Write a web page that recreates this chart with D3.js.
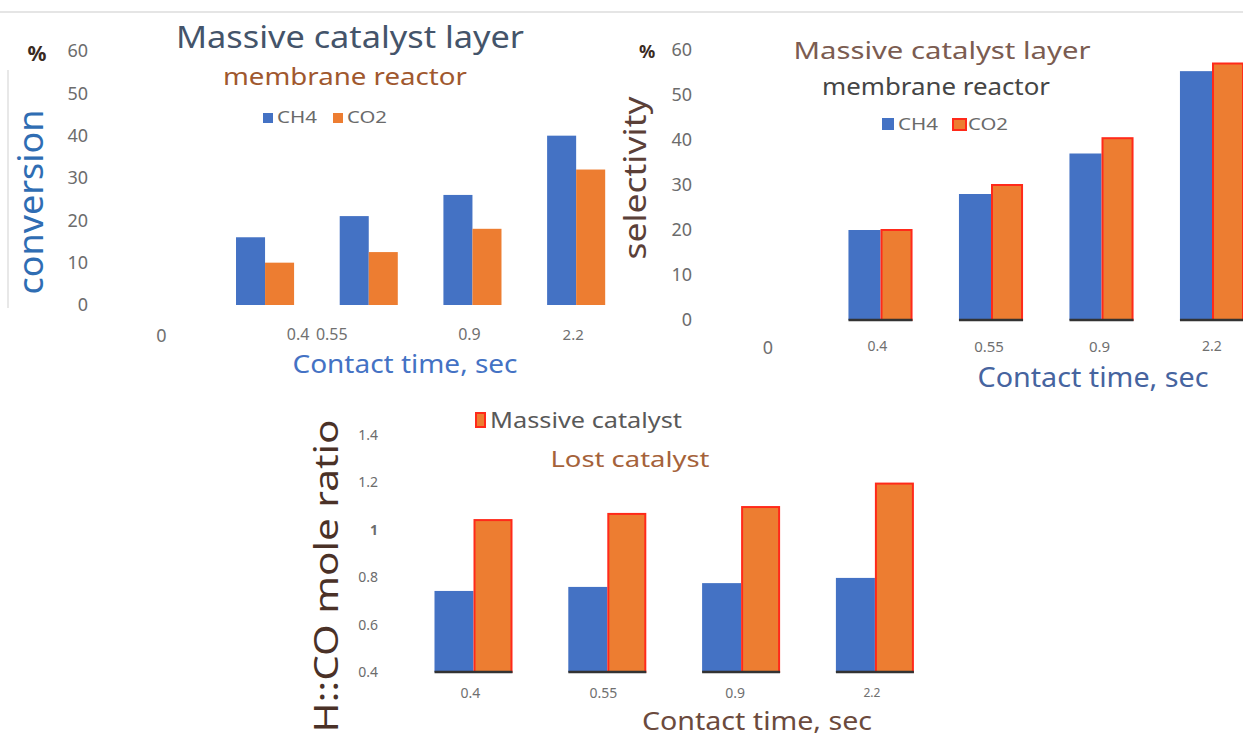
<!DOCTYPE html>
<html><head><meta charset="utf-8">
<script src="https://cdn.jsdelivr.net/npm/d3@7"></script>
<style>
html,body{margin:0;padding:0;background:#fff;}
svg{display:block;}
text{font-family:"Noto Sans","Open Sans",sans-serif;}
</style></head>
<body>
<svg id="c" width="1243" height="740"></svg>
<script>
// ---------- data ----------
const contactTimes = ["0", "0.4", "0.55", "0.9", "2.2"];
const seriesNames = ["CH4", "CO2"];
const conversionCH4 = [null, 16, 21, 26, 40];
const conversionCO2 = [null, 10, 12.5, 18, 32];
const selectivityCH4 = [null, 20, 28, 37, 55.3];
const selectivityCO2 = [null, 20, 30, 40.4, 57];
const percentTicks = [0, 10, 20, 30, 40, 50, 60];

const ratioTimes = ["0.4", "0.55", "0.9", "2.2"];
const ratioSeries = ["Lost catalyst", "Massive catalyst"];
const ratioLost = [0.742, 0.759, 0.775, 0.797];
const ratioMassive = [1.041, 1.067, 1.096, 1.195];
const ratioTicks = [0.4, 0.6, 0.8, 1, 1.2, 1.4];

// ---------- drawing ----------
const BLUE = "#4472c4", ORANGE = "#ed7d31", RED = "#ff2a1a";
const svg = d3.select("#c");

svg.append("line").attr("x1",0).attr("x2",1243).attr("y1",12).attr("y2",12)
  .attr("stroke","#dcdcdc").attr("stroke-width",1.5);
svg.append("line").attr("x1",8).attr("x2",8).attr("y1",70).attr("y2",308)
  .attr("stroke","#e0e0e0").attr("stroke-width",1.5);

function drawBars(o){
  const g = svg.append("g");
  const x = d3.scaleBand().domain(o.cats).range(o.xRange)
      .paddingInner(o.padIn).paddingOuter(o.padIn/2);
  const xs = d3.scaleBand().domain(o.series).range([0, x.bandwidth()]);
  const y = d3.scaleLinear().domain(o.yDomain).range(o.yRange);
  const rows = o.cats.map((c,i)=>({c, vals:o.values.map(v=>v[i])}));
  rows.forEach(r=>{
    if (r.vals.every(v=>v==null)) return;
    const gg = g.append("g").attr("transform",`translate(${x(r.c)},0)`);
    gg.selectAll("rect").data(r.vals.map((v,k)=>({v,k}))).join("rect")
      .attr("x",d=>xs(o.series[d.k]) + (o.stroke[d.k]?1:0))
      .attr("width",d=>xs.bandwidth() - (o.stroke[d.k]?2:0))
      .attr("y",d=>y(d.v))
      .attr("height",d=>y(o.yDomain[0]) - y(d.v))
      .attr("fill",d=>o.colors[d.k])
      .attr("stroke",d=>o.stroke[d.k]||"none")
      .attr("stroke-width",2);
    if (o.baseline){
      gg.append("line").attr("x1",0).attr("x2",x.bandwidth())
        .attr("y1",y(o.yDomain[0])).attr("y2",y(o.yDomain[0]))
        .attr("stroke","#333").attr("stroke-width",2.5);
    }
  });
  // y tick labels
  const ya = g.append("g").attr("transform",`translate(${o.yLabelX},0)`)
    .call(d3.axisLeft(y).tickValues(o.yTicks).tickSize(0).tickPadding(0)
      .tickFormat(o.yFormat||(d=>d)));
  ya.select(".domain").remove();
  ya.selectAll("text").attr("fill","#6c6c6c").style("font-size",o.yFont+"px")
    .attr("font-family","'Noto Sans',sans-serif")
    .style("font-weight",d=>(o.boldTick!==undefined && d===o.boldTick)?"bold":"normal");
  // x tick labels
  const xa = g.append("g").attr("transform",`translate(0,${o.xLabelY})`)
    .call(d3.axisBottom(x).tickSize(0).tickPadding(0));
  xa.select(".domain").remove();
  xa.selectAll("text").attr("fill","#707070")
    .style("font-size",(d,i)=> (o.xFontArr? o.xFontArr[i]:o.xFont)+"px")
    .attr("font-family","'Noto Sans',sans-serif")
    .attr("dx",(d,i)=>o.xShift? o.xShift[i]:0);
  return {x,y};
}

function txt(s,x,y,size,color,opts={}){
  const t = svg.append("text").text(s).attr("x",x).attr("y",y)
    .attr("font-size",size).attr("fill",color)
    .attr("text-anchor",opts.anchor||"middle");
  if (opts.weight) t.attr("font-weight",opts.weight);
  if (opts.len) t.attr("textLength",opts.len).attr("lengthAdjust","spacingAndGlyphs");
  if (opts.rotate) t.attr("transform",`rotate(-90,${x},${y})`);
  return t;
}

// ----- chart 1: conversion -----
drawBars({
  cats:contactTimes, series:seriesNames,
  values:[conversionCH4, conversionCO2],
  colors:[BLUE, ORANGE], stroke:[null,null],
  xRange:[109.5,628], padIn:0.44,
  yDomain:[0,60], yRange:[305,51], yTicks:percentTicks,
  yLabelX:88, yFont:18, xLabelY:329, xFont:16,
  xShift:[0,33,-37,-3,-3], xFontArr:[18,16,16,16,15]
});
txt("Massive catalyst layer",350,48,30,"#44546a",{len:348});
txt("membrane reactor",345,85,24,"#a0582e",{len:244});
svg.append("rect").attr("x",263).attr("y",113).attr("width",10).attr("height",10).attr("fill",BLUE);
txt("CH4",277,123,16,"#6a6a6a",{anchor:"start",len:40});
svg.append("rect").attr("x",333).attr("y",113).attr("width",10).attr("height",10).attr("fill",ORANGE);
txt("CO2",347,123,16,"#6a6a6a",{anchor:"start",len:40});
txt("conversion",43,202,35,"#2f6db3",{rotate:true,len:185});
txt("%",37,61,21,"#3a2a22",{weight:"bold"});
txt("Contact time, sec",405,373,25,"#4472c4",{len:225});

// ----- chart 2: selectivity -----
drawBars({
  cats:contactTimes, series:seriesNames,
  values:[selectivityCH4, selectivityCO2],
  colors:[BLUE, ORANGE], stroke:[null,RED],
  xRange:[714.75,1267.25], padIn:0.42,
  yDomain:[0,60], yRange:[320,50], yTicks:percentTicks,
  yLabelX:692, yFont:18, xLabelY:341, xFont:14, baseline:true,
  xFontArr:[18,14,15,15,14], xShift:[-2,-3,-2,-2,0]
});
txt("Massive catalyst layer",942,59,23,"#7b5c51",{len:297});
txt("membrane reactor",936,95,24,"#454545",{len:228});
svg.append("rect").attr("x",882).attr("y",118).attr("width",12).attr("height",12).attr("fill",BLUE);
txt("CH4",898,130,17,"#6a6a6a",{anchor:"start",len:40});
svg.append("rect").attr("x",953).attr("y",119).attr("width",13).attr("height",11)
  .attr("fill",ORANGE).attr("stroke",RED).attr("stroke-width",2);
txt("CO2",968,130,17,"#6a6a6a",{anchor:"start",len:40});
txt("selectivity",646,178,30,"#5b4038",{rotate:true,len:163});
txt("%",647,58,18,"#3a2a22",{weight:"bold"});
txt("Contact time, sec",1093,387,27,"#46649f",{len:231});

// ----- chart 3: H2:CO ratio -----
drawBars({
  cats:ratioTimes, series:ratioSeries,
  values:[ratioLost, ratioMassive],
  colors:[BLUE, ORANGE], stroke:[null,RED],
  xRange:[406.6,941.8], padIn:0.417,
  yDomain:[0.4,1.4], yRange:[672,435], yTicks:ratioTicks,
  yLabelX:378, yFont:14, xLabelY:688, xFont:14, baseline:true,
  xShift:[-3,-4,-6,-3], xFontArr:[14,14,14,12], boldTick:1
});
svg.append("rect").attr("x",476).attr("y",413).attr("width",9).attr("height",14)
  .attr("fill",ORANGE).attr("stroke",RED).attr("stroke-width",2);
txt("Massive catalyst",490,428,21,"#595959",{anchor:"start",len:192});
txt("Lost catalyst",630,467,22,"#a5623a",{len:159});
txt("H::CO mole ratio",338,576,32,"#4a3127",{rotate:true,len:313});
txt("Contact time, sec",757,730,26,"#6b4a3d",{len:230});
</script>
</body></html>
